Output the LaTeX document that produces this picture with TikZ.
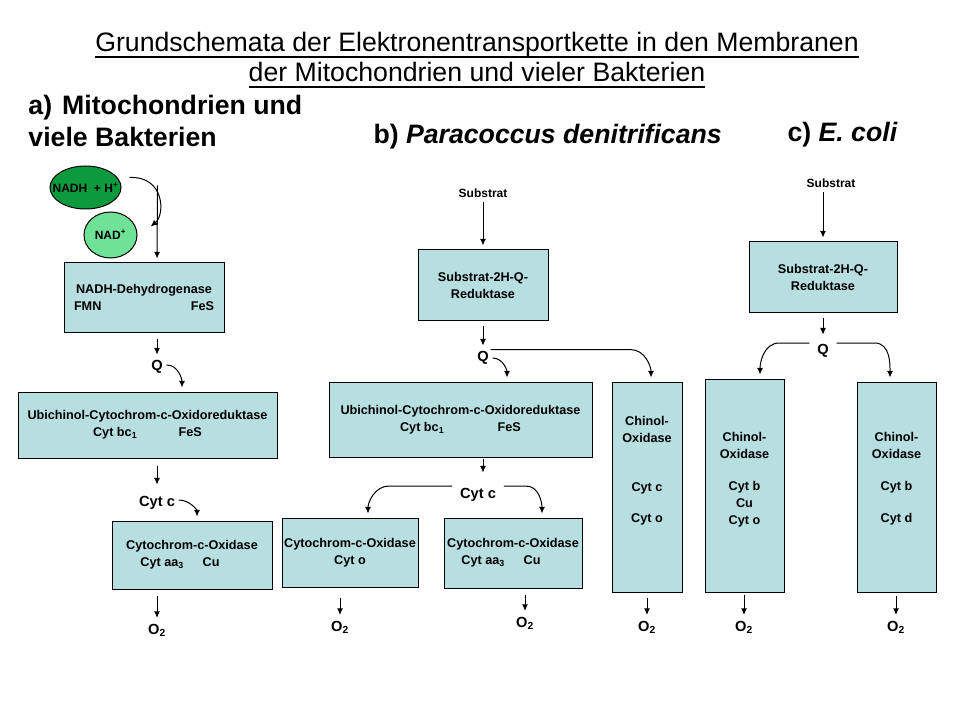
\documentclass[tikz,border=0pt]{standalone}
\usepackage{fontspec}
\setmainfont{Liberation Sans}
\usetikzlibrary{arrows,arrows.meta,calc,positioning,shapes.geometric}

\definecolor{boxblue}{RGB}{183,222,224}
\definecolor{nadhgreen}{RGB}{12,154,60}
\definecolor{nadgreen}{RGB}{112,226,152}

\newcommand{\boxfont}{\bfseries\fontsize{9.5}{12.75}\selectfont}
\newcommand{\tallbox}[3]{\parbox[c][#1][t]{#2}{\centering #3}}
\newcommand{\titleul}[1]{\vtop{\hbox{\raisebox{0pt}[\height][0pt]{#1}}\kern3pt\hrule height 1.4pt}}

\begin{document}
\begin{tikzpicture}[x=0.75pt,y=-0.75pt,>={Latex[length=5pt,width=4.5pt]},shorten >=3pt,line width=0.75pt,
	enzyme/.style={draw,fill=boxblue,inner sep=0pt,align=center,font=\boxfont},
	tallenz/.style={draw,fill=boxblue,inner sep=0pt,font=\boxfont},
	carrier/.style={inner sep=1pt,font=\bfseries\fontsize{11}{13}\selectfont},
	substr/.style={inner sep=1pt,font=\bfseries\fontsize{9}{11}\selectfont},
	nadblob/.style={ellipse,draw,inner sep=0pt,font=\bfseries\fontsize{9}{11}\selectfont},
	head/.style={anchor=west,inner sep=0pt,align=left,font=\bfseries\fontsize{20}{24}\selectfont}]
	\useasboundingbox (0,0) rectangle (960,720);
	
	% titles
	\node[align=center,font=\fontsize{20}{22.5}\selectfont] (title) at (477,60)
	{\titleul{Grundschemata der Elektronentransportkette in den Membranen}\\
		\titleul{der Mitochondrien und vieler Bakterien}};
	\node[head] (heada) at (28,121) {a)\hspace{7.5pt}Mitochondrien und\\viele Bakterien};
	\node[head] (headb) at (373,137) {b) \textit{Paracoccus denitrificans}};
	\node[head] (headc) at (787,135) {c) \textit{E. coli}};
	
	% a) Mitochondrien
	\node[nadblob,fill=nadhgreen,minimum width=53.25pt,minimum height=32.25pt] (nadh) at (85.5,187.5) {\makebox[0pt]{NADH \ + H\textsuperscript{+}}};
	\node[nadblob,fill=nadgreen,minimum width=39.75pt,minimum height=34.5pt] (nad) at (110.5,235) {\makebox[0pt]{NAD\textsuperscript{+}}};
	\node[enzyme,minimum width=120pt,minimum height=51.75pt] (dehyd) at (144,297.5) {NADH-Dehydrogenase\\\makebox[105pt]{FMN\hfill FeS}};
	\node[carrier] (qa) at (157,367) {Q};
	\node[enzyme,minimum width=194.25pt,minimum height=49.5pt] (ubia) at (147.5,425) {Ubichinol-Cytochrom-c-Oxidoreduktase\\Cyt bc\textsubscript{1}\hspace{31pt}FeS};
	\node[carrier] (cytca) at (157,503) {Cyt c};
	\node[enzyme,minimum width=120pt,minimum height=51pt] (coxa) at (192,555) {Cytochrom-c-Oxidase\\Cyt aa\textsubscript{3}\hspace{14pt}Cu\hspace*{18pt}};
	\node[carrier] (o2a) at (157,630) {O\textsubscript{2}};
	
	% b) Paracoccus denitrificans
	\node[substr] (substb) at (483,193) {Substrat};
	\node[enzyme,minimum width=97.5pt,minimum height=52.5pt] (sqrb) at (483,285) {Substrat-2H-Q-\\Reduktase};
	\node[carrier] (qb) at (483,358) {Q};
	\node[enzyme,minimum width=197.25pt,minimum height=56.25pt] (ubib) at (460.5,419.5) {Ubichinol-Cytochrom-c-Oxidoreduktase\\Cyt bc\textsubscript{1}\hspace{40pt}FeS};
	\node[carrier] (cytcb) at (478,495) {Cyt c};
	\node[enzyme,minimum width=102pt,minimum height=51.75pt] (coxob) at (350,552.5) {Cytochrom-c-Oxidase\\Cyt o};
	\node[enzyme,minimum width=103.5pt,minimum height=52.5pt] (coxaab) at (513,553) {Cytochrom-c-Oxidase\\Cyt aa\textsubscript{3}\hspace{14pt}Cu\hspace*{18pt}};
	\node[tallenz] (qoxb) at (647,487) {\tallbox{157.5pt}{52.5pt}{\vspace*{25.5pt}Chinol-\\Oxidase\\[24pt]Cyt c\\[10.5pt]Cyt o}};
	\node[carrier] (o2b1) at (340,627) {O\textsubscript{2}};
	\node[carrier] (o2b2) at (525,623) {O\textsubscript{2}};
	\node[carrier] (o2b3) at (647,627) {O\textsubscript{2}};
	
	% c) E. coli
	\node[substr] (substc) at (831,183) {Substrat};
	\node[enzyme,minimum width=111pt,minimum height=52.5pt] (sqrc) at (823,277) {Substrat-2H-Q-\\Reduktase};
	\node[carrier] (qc) at (823,351) {Q};
	\node[tallenz] (qoxc1) at (744.5,485.5) {\tallbox{159.75pt}{59.25pt}{\vspace*{39.75pt}Chinol-\\Oxidase\\[11.25pt]Cyt b\\Cu\\Cyt o}};
	\node[tallenz] (qoxc2) at (896.5,487) {\tallbox{157.5pt}{59.25pt}{\vspace*{37.5pt}Chinol-\\Oxidase\\[11.25pt]Cyt b\\[11.25pt]Cyt d}};
	\node[carrier] (o2c1) at (744,627) {O\textsubscript{2}};
	\node[carrier] (o2c2) at (896,627) {O\textsubscript{2}};
	
	% arrows a)
	\draw[->] ($(nadh.east)+(8,-10)$) .. controls (165,176) and (165,215) .. ($(nad.east)+(10,-6)$);
	\draw[->] ($(nadh.east)+(36,-2)$) -- ($(dehyd.north)+(13,0)$);
	\draw[->] ($(qa.north |- dehyd.south)+(0,6)$) -- (qa.north);
	\draw[->] ($(qa.east)+(2,-2)$) to[out=0,in=90] ($(ubia.north)+(34.5,0)$);
	\draw[->] ($(cytca.north |- ubia.south)+(0,7)$) -- ($(cytca.north)+(0,-6)$);
	\draw[->] ($(cytca.east)+(2,-3)$) to[out=0,in=90] ($(coxa.north)+(5,0)$);
	\draw[->] ($(o2a.north |- coxa.south)+(0,6)$) -- (o2a.north);
	
	% arrows b)
	\draw[->] ($(substb.south)+(0,3)$) -- (sqrb.north);
	\draw[->] ($(sqrb.south)+(0,5)$) -- (qb.north);
	\draw[->] ($(qb.east)+(2,0)$) to[out=0,in=90] ($(ubib.north)+(46.5,0)$);
	\draw[->] (qb.north east) -- ++(140,0) to[out=0,in=90] ($(qoxb.north)+(4,0)$);
	\draw[->] ($(ubib.south)+(22.5,1)$) -- ($(cytcb.north)+(5,-10)$);
	\draw[->] ($(cytcb.west)+(-6,-9)$) -- ++(-63,0) to[out=180,in=90] ($(coxob.north)+(18,0)$);
	\draw[->] ($(cytcb.east)+(6,-9)$) -- ++(22,0) to[out=0,in=90] ($(coxaab.north)+(29,0)$);
	\draw[->] ($(o2b1.north |- coxob.south)+(0,10)$) -- (o2b1.north);
	\draw[->] ($(o2b2.north |- coxaab.south)+(0,6)$) -- (o2b2.north);
	\draw[->] ($(qoxb.south)+(0,5)$) -- (o2b3.north);
	
	% arrows c)
	\draw[->] ($(substc.south -| sqrc.north)+(0,3)$) -- (sqrc.north);
	\draw[->] ($(sqrc.south)+(0,5)$) -- ($(qc.north)+(0,-4)$);
	\draw[->] ($(qc.west)+(-6,-8)$) -- ++(-30,0) to[out=180,in=90] ($(qoxc1.north)+(15.5,0)$);
	\draw[->] ($(qc.east)+(6,-8)$) -- ++(38,0) to[out=0,in=90] ($(qoxc2.north)+(-6.5,0)$);
	\draw[->] ($(o2c1.north |- qoxc1.south)+(0,2)$) -- (o2c1.north);
	\draw[->] ($(o2c2.north |- qoxc2.south)+(0,3)$) -- (o2c2.north);
\end{tikzpicture}
\end{document}
